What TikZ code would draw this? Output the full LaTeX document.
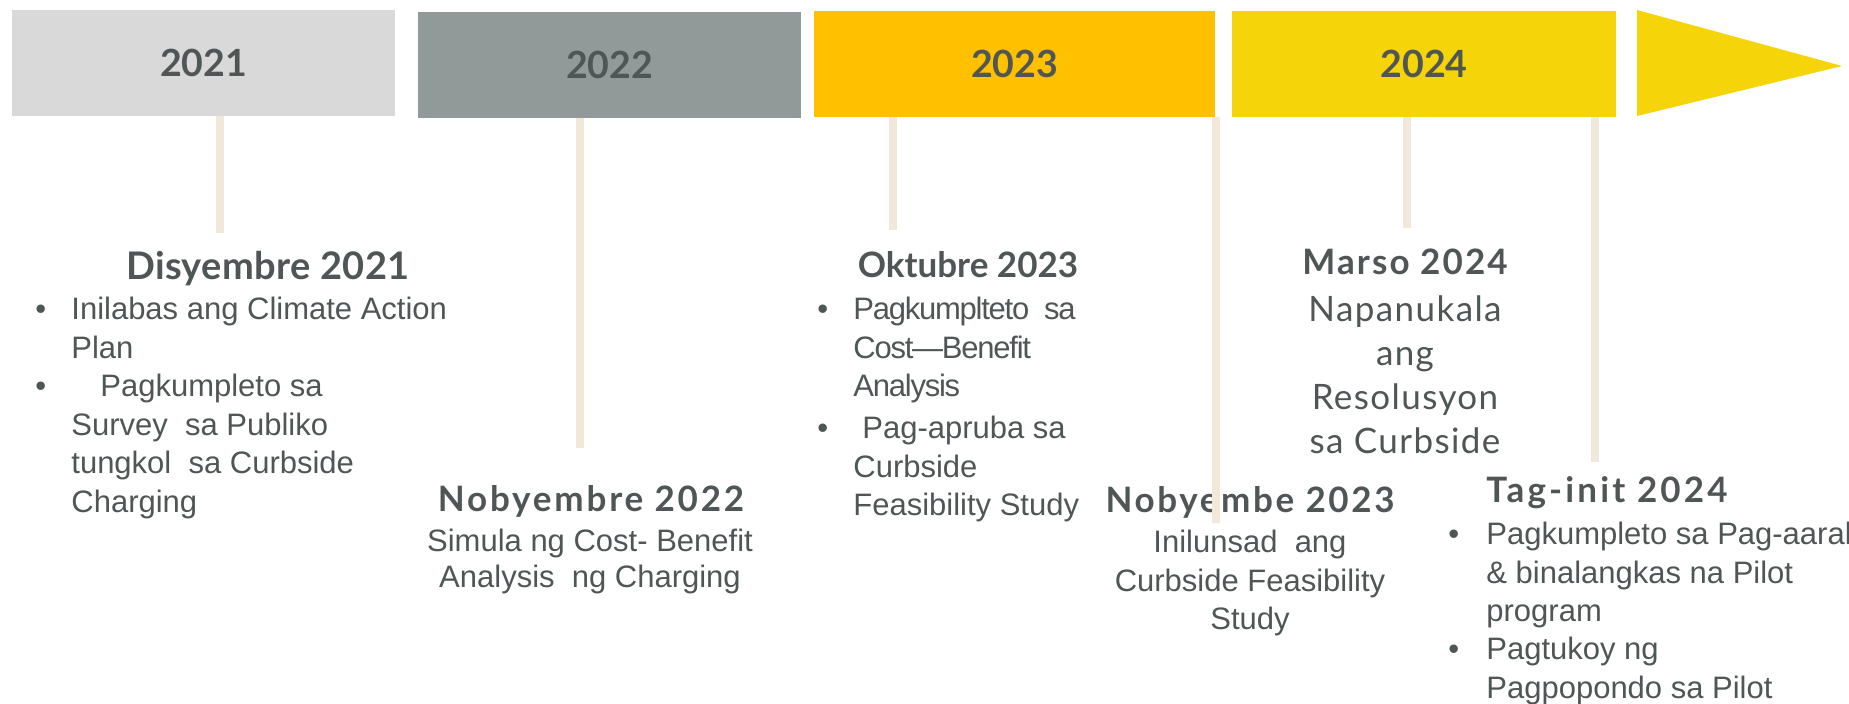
\documentclass[tikz,border=0pt]{standalone}
\usepackage{fontspec}
\setmainfont{Liberation Sans}
\newfontfamily\headfont{Lato}
\usepackage{tikz}
\usetikzlibrary{
  positioning
}

\definecolor{grey21}{RGB}{217,217,217}
\definecolor{grey22}{RGB}{145,153,153}
\definecolor{amber23}{RGB}{255,192,0}
\definecolor{yellow24}{RGB}{245,212,10}
\definecolor{stembeige}{RGB}{242,232,218}
\definecolor{ink}{RGB}{80,86,86}

\begin{document}
\begin{tikzpicture}[
      x=0.5pt,y=-0.5pt,
      yearbox/.style={
         rectangle,
         inner sep=0pt,
         minimum width=191.5pt,
         minimum height=53pt,
         font=\headfont\bfseries\fontsize{18.75pt}{20pt}\selectfont,
         text=ink
      },
      heading/.style={
         anchor=base,
         inner sep=0pt,
         font=\headfont\bfseries\fontsize{17.5pt}{20pt}\selectfont\addfontfeature{LetterSpace=#1},
         text=ink
      },
      heading/.default=0,
      bigheading/.style={
         heading,
         font=\headfont\bfseries\fontsize{19pt}{20pt}\selectfont\addfontfeature{LetterSpace=1}
      },
      % multi-line texts are placed by the baseline of their last line
      bodytext/.style={
         anchor=base west,
         inner sep=0pt,
         align=left,
         font=\fontsize{15.5pt}{19.25pt}\selectfont,
         text=ink
      },
      centertext/.style={
         bodytext,
         anchor=base,
         align=center
      },
      marsotext/.style={
         centertext,
         font=\headfont\fontsize{17.5pt}{22pt}\selectfont\addfontfeature{LetterSpace=4}
      },
      dot/.style={
         anchor=base west,
         inner sep=0pt,
         font=\fontsize{15.5pt}{19.25pt}\selectfont,
         text=ink
      },
      stem/.style={draw=stembeige,line width=4pt}
    ]
    \path[use as bounding box,fill=white] (0,0) rectangle (1849,704);

    % year bar
    \node (y21) [yearbox,fill=grey21] at (203.5,63) {2021};
    \node (y22) [yearbox,fill=grey22] at (609.5,65) {2022};
    \node (y23) [yearbox,fill=amber23,minimum width=200.5pt] at (1014.5,64) {2023};
    \node (y24) [yearbox,fill=yellow24,minimum width=192pt] at (1424,64) {2024};
    \fill[yellow24] (1637,10) -- (1842,66) -- (1637,116) -- cycle;

    % events
    \node (t21) [bigheading] at (268,280) {Disyembre 2021};
    \node (d21a) [dot] at (35,320) {•};
    \node (l21a) [bodytext] at (71,358.5) {Inilabas ang Climate Action\\Plan};
    \node (d21b) [dot] at (35,397) {•};
    \node (l21b) [bodytext] at (71,512.5) {\hspace{14.5pt}Pagkumpleto sa\\Survey\ \ sa Publiko\\tungkol\ \ sa Curbside\\Charging};

    \node (t22) [heading=8] at (591,512) {Nobyembre 2022};
    \node (l22) [centertext,font=\fontsize{15.5pt}{18pt}\selectfont] at (590,588) {Simula ng Cost- Benefit\\Analysis\ \ ng Charging};

    \node (t23a) [heading] at (968,278) {Oktubre 2023};
    \node (d23a) [dot] at (817,320) {•};
    \node (l23a) [bodytext,font=\fontsize{15.5pt}{19.25pt}\selectfont\addfontfeature{LetterSpace=-4}] at (853,397) {Pagkumplteto\ \ sa\\Cost—Benefit\\Analysis};
    \node (d23b) [dot] at (817,439) {•};
    \node (l23b) [bodytext] at (853,516) {\hspace{4.5pt}Pag-apruba sa\\Curbside\\Feasibility Study};

    \node (t23b) [heading=7.5] at (1250,513) {Nobyembe 2023};
    \node (l23c) [centertext] at (1250,630) {Inilunsad\ \ ang\\Curbside Feasibility\\Study};

    \node (t24a) [heading=6] at (1405,275) {Marso 2024};
    \node (l24a) [marsotext] at (1405,454) {Napanukala\\ang\\Resolusyon\\sa Curbside};

    \node (t24b) [heading=9] at (1607,503) {Tag-init 2024};
    \node (d24a) [dot] at (1448,545) {•};
    \node (l24b) [bodytext] at (1486,622) {Pagkumpleto sa Pag-aaral\\\& binalangkas na Pilot\\program};
    \node (d24b) [dot] at (1448,660) {•};
    \node (l24c) [bodytext] at (1486,698.5) {Pagtukoy ng\\Pagpopondo sa Pilot};

    % stems
    \coordinate (e1) at (220,233);
    \coordinate (e2) at (580,448);
    \coordinate (e3) at (893,230);
    \coordinate (e4) at (1216,523);
    \coordinate (e5) at (1407,228);
    \coordinate (e6) at (1595,462);
    \draw[stem] (e1 |- y21.south) -- (e1);
    \draw[stem] (e2 |- y22.south) -- (e2);
    \draw[stem] (e3 |- y23.south) -- (e3);
    \draw[stem] (e4 |- y23.south) -- (e4);
    \draw[stem] (e5 |- y24.south) -- (e5);
    \draw[stem] (e6 |- y24.south) -- (e6);
\end{tikzpicture}
\end{document}
